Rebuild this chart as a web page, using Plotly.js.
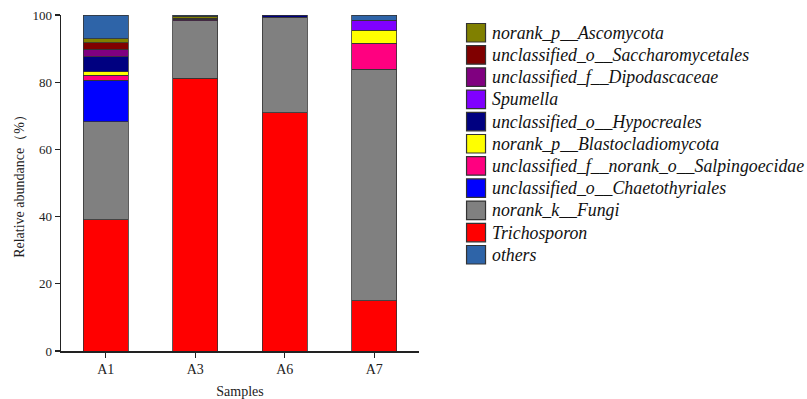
<!DOCTYPE html>
<html>
<head>
<meta charset="utf-8">
<script src="https://cdn.plot.ly/plotly-3.0.1.min.js"></script>
<style>
  html, body { margin: 0; padding: 0; background: #fff; }
  #chart { width: 807px; height: 399px; }
</style>
</head>
<body>
<div id="chart"></div>
<script>
// Samples on the x axis
const samples = ['A1', 'A3', 'A6', 'A7'];

// Taxa, in stacking order from the bottom of each bar upward
const taxa = [
  'Trichosporon',
  'norank_k__Fungi',
  'unclassified_o__Chaetothyriales',
  'unclassified_f__norank_o__Salpingoecidae',
  'norank_p__Blastocladiomycota',
  'unclassified_o__Hypocreales',
  'Spumella',
  'unclassified_f__Dipodascaceae',
  'unclassified_o__Saccharomycetales',
  'norank_p__Ascomycota',
  'others'
];

// Relative abundance (%) per taxon, for A1, A3, A6, A7 (null = absent)
const trichosporon      = [39.0, 81.2, 70.9, 14.9];
const fungi             = [29.2, 17.1, 28.4, 69.0];
const chaetothyriales   = [12.4, null, null, null];
const salpingoecidae    = [ 1.4, null, null,  7.7];
const blastocladiomycota= [ 1.1, null, null,  3.9];
const hypocreales       = [ 4.5, null,  0.7, null];
const spumella          = [null, null, null,  3.0];
const dipodascaceae     = [ 2.2,  0.5, null, null];
const saccharomycetales = [ 2.0,  0.3, null, null];
const ascomycota        = [ 1.2,  0.5, null, null];
const others            = [ 7.0,  0.4, null,  1.5];

const seriesValues = [
  trichosporon, fungi, chaetothyriales, salpingoecidae, blastocladiomycota,
  hypocreales, spumella, dipodascaceae, saccharomycetales, ascomycota, others
];

const colors = [
  '#FF0000', '#808080', '#0000FF', '#FF0080', '#FFFF00',
  '#000080', '#8000FF', '#800080', '#800000', '#808000', '#2E64A8'
];

// Legend listing order, top to bottom (indices into taxa)
const legendOrder = [9, 8, 7, 6, 5, 4, 3, 2, 1, 0, 10];

const serif = '"Times New Roman", "Liberation Serif", serif';

const traces = taxa.map((name, i) => ({
  type: 'bar',
  name: name,
  x: samples,
  y: seriesValues[i],
  marker: { color: colors[i], line: { color: '#333333', width: 0.8 } },
  showlegend: false,
  hoverinfo: 'name+y'
}));

// Plot area geometry in pixels (used to place the custom legend)
const W = 807, H = 399;
const mL = 61, mR = 387.6, mT = 15, mB = 48;
const plotW = W - mL - mR, plotH = H - mT - mB;
const px2x = px => (px - mL) / plotW;
const px2y = py => (H - mB - py) / plotH;

// Custom legend: large outlined swatches with italic labels
const shapes = [];
const annotations = [];
const rowTop = 23.5, rowStep = 22.2, sw = 19, sh = 18.5, swX = 467;
legendOrder.forEach((idx, r) => {
  const y0 = rowTop + r * rowStep;
  shapes.push({
    type: 'rect', xref: 'paper', yref: 'paper',
    x0: px2x(swX), x1: px2x(swX + sw),
    y0: px2y(y0 + sh), y1: px2y(y0),
    fillcolor: colors[idx], line: { color: '#333333', width: 1.2 }
  });
  annotations.push({
    xref: 'paper', yref: 'paper',
    x: px2x(swX + sw + 4), y: px2y(y0 + sh / 2),
    xanchor: 'left', yanchor: 'middle', showarrow: false,
    text: taxa[idx],
    font: { family: serif, size: 17.8, color: '#111', style: 'italic' }
  });
});

const layout = {
  width: W, height: H,
  margin: { l: mL, r: mR, t: mT, b: mB, pad: 0 },
  barmode: 'stack',
  bargap: 0.5,
  paper_bgcolor: '#fff',
  plot_bgcolor: '#fff',
  font: { family: serif, color: '#222' },
  xaxis: {
    type: 'category',
    range: [-0.5, 3.5],
    showline: true, linecolor: '#222', linewidth: 1.5,
    ticks: 'outside', ticklen: 5, tickcolor: '#222', tickwidth: 1.2,
    showgrid: false, zeroline: false,
    tickfont: { family: serif, size: 14, color: '#222' },
    title: { text: 'Samples', font: { family: serif, size: 14, color: '#222' }, standoff: 12 }
  },
  yaxis: {
    range: [0, 100],
    tickvals: [0, 20, 40, 60, 80, 100],
    showline: true, linecolor: '#222', linewidth: 1.5,
    ticks: 'outside', ticklen: 5, tickcolor: '#222', tickwidth: 1.2,
    showgrid: false, zeroline: false,
    tickfont: { family: serif, size: 13, color: '#222' },
    title: { text: 'Relative abundance（%）', font: { family: serif, size: 14, color: '#222' }, standoff: 4 }
  },
  shapes: shapes,
  annotations: annotations
};

Plotly.newPlot('chart', traces, layout, { displayModeBar: false, staticPlot: true });
</script>
</body>
</html>
